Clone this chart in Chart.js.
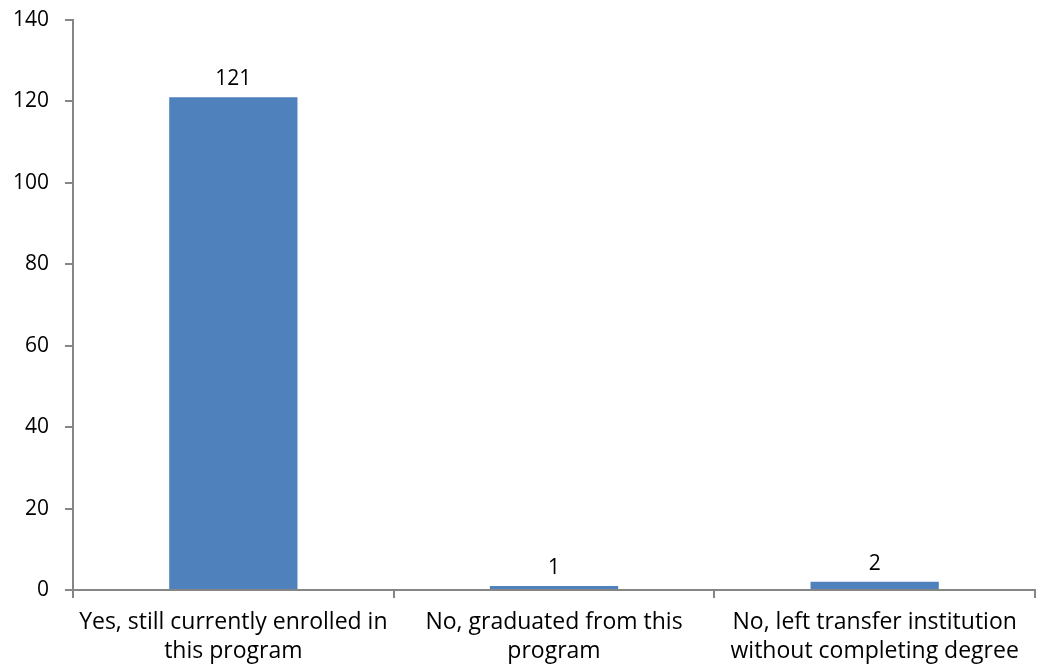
<!DOCTYPE html>
<html>
<head>
<meta charset="utf-8">
<script src="https://cdn.jsdelivr.net/npm/chart.js@4/dist/chart.umd.min.js"></script>
<style>
  html, body { margin: 0; padding: 0; background: #fff; }
  #wrap { width: 1037px; height: 671px; }
</style>
</head>
<body>
<div id="wrap"><canvas id="chart"></canvas></div>
<script>
const categories = [
  ["Yes, still currently enrolled in", "this program"],
  ["No, graduated from this", "program"],
  ["No, left transfer institution", "without completing degree"]
];
const counts = [121, 1, 2];
const yTicks = [0, 20, 40, 60, 80, 100, 120, 140];

const axisGray = "#868686";
const fontFamily = "'Open Sans', 'Liberation Sans', sans-serif";

// draws the value above each bar
const valueLabels = {
  id: "valueLabels",
  afterDatasetsDraw(chart) {
    const ctx = chart.ctx;
    const meta = chart.getDatasetMeta(0);
    ctx.save();
    ctx.fillStyle = "#000";
    ctx.font = "21px " + fontFamily;
    ctx.textAlign = "center";
    ctx.textBaseline = "alphabetic";
    meta.data.forEach((bar, i) => {
      ctx.fillText(String(counts[i]), bar.x, bar.y - 12);
    });
    ctx.restore();
  }
};

new Chart(document.getElementById("chart"), {
  type: "bar",
  data: {
    labels: categories,
    datasets: [{
      data: counts,
      backgroundColor: "#4F81BD",
      borderWidth: 0,
      categoryPercentage: 0.4,
      barPercentage: 1.0
    }]
  },
  options: {
    responsive: true,
    maintainAspectRatio: false,
    animation: false,
    layout: { padding: { top: 20, right: 2, left: 0, bottom: 0 } },
    plugins: { legend: { display: false }, tooltip: { enabled: false } },
    scales: {
      x: {
        offset: true,
        afterFit(scale) { scale.height = 81; },
        border: { color: axisGray, width: 2 },
        grid: {
          offset: true,
          drawOnChartArea: false,
          drawTicks: true,
          tickLength: 8,
          color: axisGray,
          lineWidth: 2
        },
        ticks: {
          color: "#000",
          font: { family: fontFamily, size: 23, lineHeight: 1.25 },
          padding: 10,
          maxRotation: 0,
          autoSkip: false
        }
      },
      y: {
        min: 0,
        max: 140,
        afterFit(scale) {
          scale.width = 73;
          scale.paddingTop = 0;
          scale.paddingBottom = 0;
        },
        afterBuildTicks(scale) { scale.ticks = yTicks.map(v => ({ value: v })); },
        border: { color: axisGray, width: 2 },
        grid: {
          drawOnChartArea: false,
          drawTicks: true,
          tickLength: 8,
          color: axisGray,
          lineWidth: 2
        },
        ticks: {
          color: "#000",
          font: { family: fontFamily, size: 21 },
          padding: 16
        }
      }
    }
  },
  plugins: [valueLabels]
});
</script>
</body>
</html>
